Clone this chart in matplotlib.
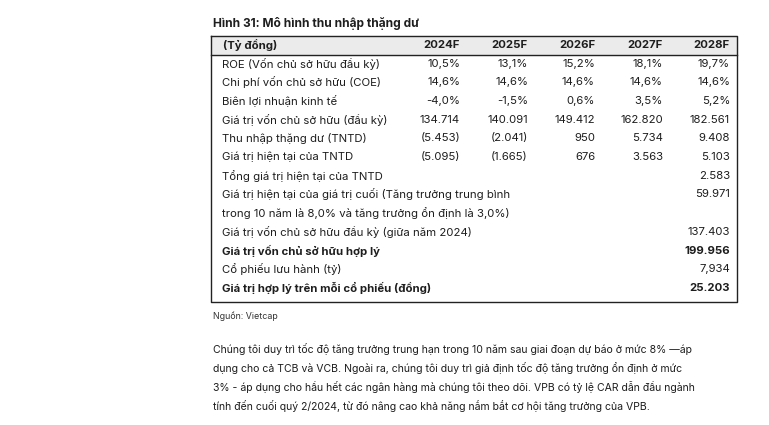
import matplotlib.pyplot as plt

plt.rcParams['font.family'] = ['Inter', 'DejaVu Sans']

title = "Hình 31: Mô hình thu nhập thặng dư"
unit_label = "(Tỷ đồng)"
years = ['2024F', '2025F', '2026F', '2027F', '2028F']

roe = [10.5, 13.1, 15.2, 18.1, 19.7]
coe = [14.6, 14.6, 14.6, 14.6, 14.6]
spread = [-4.0, -1.5, 0.6, 3.5, 5.2]
equity_begin = [134714, 140091, 149412, 162820, 182561]
residual_income = [-5453, -2041, 950, 5734, 9408]
pv_residual = [-5095, -1665, 676, 3563, 5103]

total_pv = 2583
pv_terminal = 59971
equity_mid2024 = 137403
fair_equity = 199956
shares_bn = 7.934
fair_per_share = 25203

source = "Nguồn: Vietcap"
paragraph = [
    "Chúng tôi duy trì tốc độ tăng trưởng trung hạn trong 10 năm sau giai đoạn dự báo ở mức 8% —áp",
    "dụng cho cả TCB và VCB. Ngoài ra, chúng tôi duy trì giả định tốc độ tăng trưởng ổn định ở mức",
    "3% - áp dụng cho hầu hết các ngân hàng mà chúng tôi theo dõi. VPB có tỷ lệ CAR dẫn đầu ngành",
    "tính đến cuối quý 2/2024, từ đó nâng cao khả năng nắm bắt cơ hội tăng trưởng của VPB.",
]


def pct(v):
    return ("%.1f%%" % v).replace('.', ',')


def num(v):
    s = "{:,}".format(abs(int(v))).replace(',', '.')
    return "(%s)" % s if v < 0 else s


rows = [
    ("ROE (Vốn chủ sở hữu đầu kỳ)", [pct(v) for v in roe], False),
    ("Chi phí vốn chủ sở hữu (COE)", [pct(v) for v in coe], False),
    ("Biên lợi nhuận kinh tế", [pct(v) for v in spread], False),
    ("Giá trị vốn chủ sở hữu (đầu kỳ)", [num(v) for v in equity_begin], False),
    ("Thu nhập thặng dư (TNTD)", [num(v) for v in residual_income], False),
    ("Giá trị hiện tại của TNTD", [num(v) for v in pv_residual], False),
    ("Tổng giá trị hiện tại của TNTD", ['', '', '', '', num(total_pv)], False),
    ("Giá trị hiện tại của giá trị cuối (Tăng trưởng trung bình", ['', '', '', '', num(pv_terminal)], False),
    ("trong 10 năm là 8,0% và tăng trưởng ổn định là 3,0%)", ['', '', '', '', ''], False),
    ("Giá trị vốn chủ sở hữu đầu kỳ (giữa năm 2024)", ['', '', '', '', num(equity_mid2024)], False),
    ("Giá trị vốn chủ sở hữu hợp lý", ['', '', '', '', num(fair_equity)], True),
    ("Cổ phiếu lưu hành (tỷ)", ['', '', '', '', ("%.3f" % shares_bn).replace('.', ',')], False),
    ("Giá trị hợp lý trên mỗi cổ phiếu (đồng)", ['', '', '', '', num(fair_per_share)], True),
]

fig = plt.figure(figsize=(7.69, 4.25), dpi=100)
ax = fig.add_axes([0, 0, 1, 1])
ax.set_xlim(0, 769)
ax.set_ylim(425, 0)
ax.axis('off')

txt = '#1e1e1e'
fs = 8.2
col_right = [460, 528, 595, 663, 730]
left, right, top, head_bot, bottom = 211, 737, 36, 55, 302

ax.text(213, 23, title, fontsize=8.6, fontweight='bold', color=txt, va='center')

# header
ax.fill_between([left, right], top, head_bot, color='#ebebeb', zorder=0)
ax.plot([left, right, right, left, left], [top, top, bottom, bottom, top], color='#222222', lw=1.0)
ax.plot([left, right], [head_bot, head_bot], color='#222222', lw=1.0)
ax.text(223, 44.5, unit_label, fontsize=fs, fontweight='bold', color=txt, va='center')
for x, y in zip(col_right, years):
    ax.text(x, 44.5, y, fontsize=fs, fontweight='bold', color=txt, va='center', ha='right')

y0, step = 63.5, 18.7
for i, (label, vals, bold) in enumerate(rows):
    y = y0 + i * step
    w = 'bold' if bold else 'normal'
    ax.text(222, y, label, fontsize=fs, fontweight=w, color=txt, va='center')
    for x, v in zip(col_right, vals):
        if v:
            ax.text(x, y, v, fontsize=fs, fontweight=w, color=txt, va='center', ha='right')

ax.text(213, 316, source, fontsize=6.4, color='#333333', va='center')

for i, line in enumerate(paragraph):
    ax.text(213, 349 + i * 19, line, fontsize=7.55, color=txt, va='center')

fig.savefig('out.png', dpi=100)
